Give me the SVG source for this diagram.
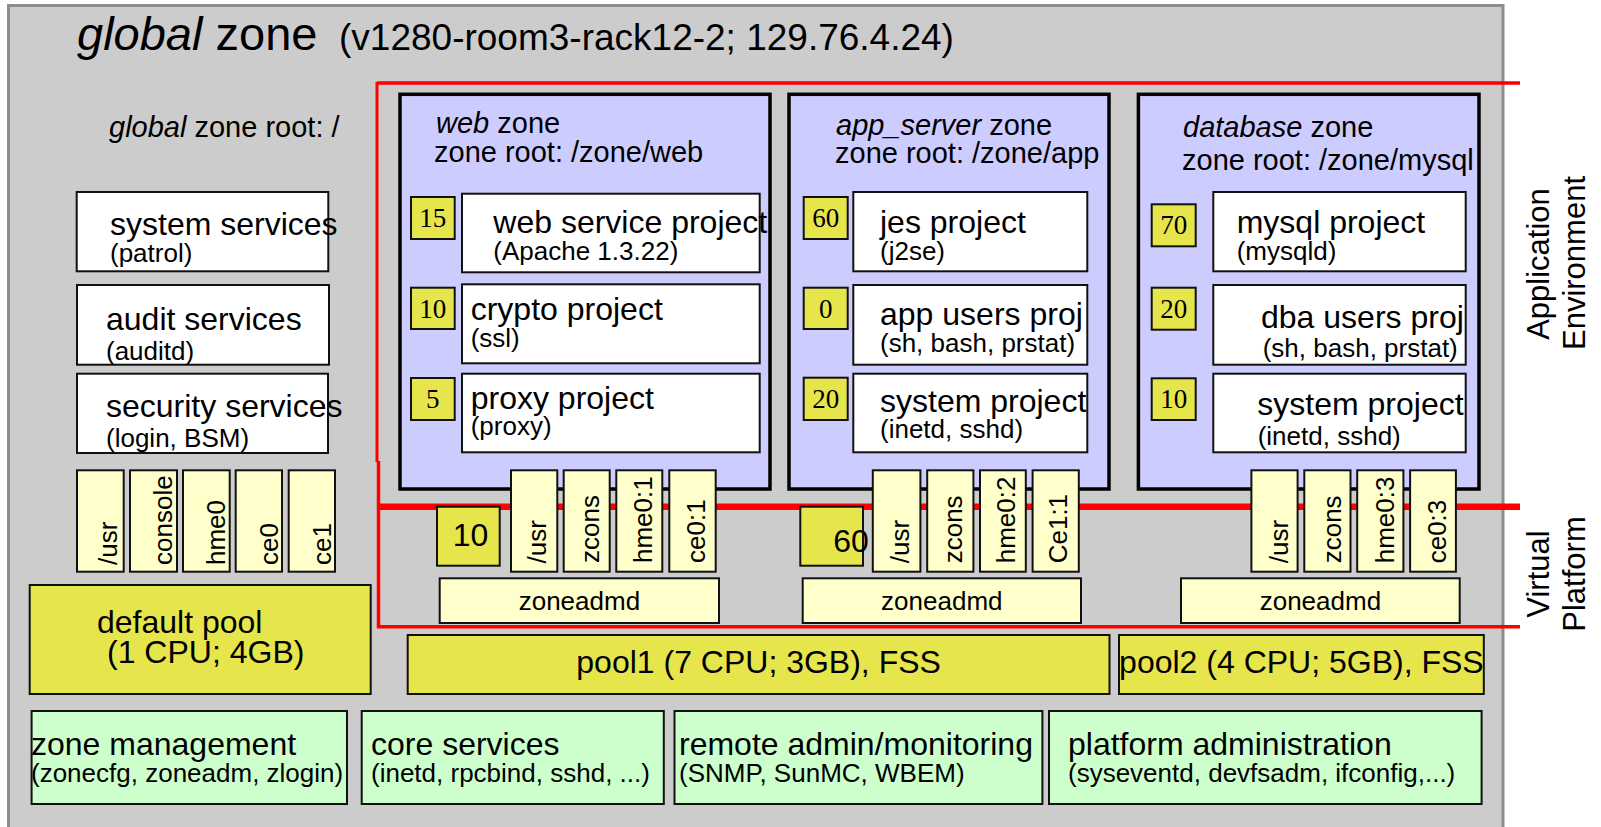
<svg xmlns="http://www.w3.org/2000/svg" width="1601" height="827" viewBox="0 0 1601 827">
<style>
text{font-family:"Liberation Sans",Arial,Helvetica,sans-serif;fill:#000}
.it{font-style:italic}
.m{font-size:32px}
.s{font-size:26px}
.zl{font-size:29px}
.num{font-family:"Liberation Serif","Times New Roman",serif;font-size:27px;text-anchor:middle}
.v{font-size:26px}
.mid{text-anchor:middle}
.wb{fill:#ffffff;stroke:#111;stroke-width:2}
.zone{fill:#ccccff;stroke:#000;stroke-width:3.5}
.yb{fill:#e6e64c;stroke:#111;stroke-width:2}
.lb{fill:#ffffcc;stroke:#111;stroke-width:2}
.gb{fill:#ccffcc;stroke:#111;stroke-width:2}
.red{stroke:#ff0000;fill:none}
</style>
<rect x="0" y="0" width="1601" height="827" fill="#ffffff"/>
<g id="global-zone">
<rect x="8.5" y="5.5" width="1494.5" height="830" fill="#cccccc" stroke="#8c8c8c" stroke-width="3"/>
<text x="77" y="50" font-size="47"><tspan class="it">global</tspan> zone</text>
<text x="339" y="50" font-size="37">(v1280-room3-rack12-2; 129.76.4.24)</text>
<text x="109" y="137" class="zl"><tspan class="it">global</tspan> zone root: /</text>
</g>
<g id="boundaries">
<path class="red" d="M377 83H1520" stroke-width="3.5"/>
<path class="red" d="M377 82V462" stroke-width="3"/>
<path class="red" d="M378.5 461V628" stroke-width="3.5"/>
<path class="red" d="M377 506.7H1520" stroke-width="6.5"/>
<path class="red" d="M377 626.7H1520" stroke-width="3.5"/>
</g>
<g id="label-application-environment">
<text class="mid" font-size="31" transform="translate(1549,264) rotate(-90)">Application</text>
<text class="mid" font-size="31" transform="translate(1585,263) rotate(-90)">Environment</text>
</g>
<g id="label-virtual-platform">
<text class="mid" font-size="31" transform="translate(1549,574) rotate(-90)">Virtual</text>
<text class="mid" font-size="31" transform="translate(1585,574) rotate(-90)">Platform</text>
</g>
<g id="system-services">
<rect class="wb" x="76.7" y="192" width="251.6" height="79.3"/>
<text class="m" x="110" y="235">system services</text>
<text class="s" x="110" y="262">(patrol)</text>
</g>
<g id="audit-services">
<rect class="wb" x="77" y="285" width="252" height="79.7"/>
<text class="m" x="106" y="330">audit services</text>
<text class="s" x="106" y="360">(auditd)</text>
</g>
<g id="security-services">
<rect class="wb" x="77" y="373.7" width="251" height="79.3"/>
<text class="m" x="106" y="416.7">security services</text>
<text class="s" x="106" y="446.7">(login, BSM)</text>
</g>
<g id="global-devices">
<rect class="lb" x="77" y="470.3" width="46.7" height="101.4"/>
<rect class="lb" x="130" y="470.3" width="47" height="101.4"/>
<rect class="lb" x="183" y="470.3" width="46.7" height="101.4"/>
<rect class="lb" x="235.7" y="470.3" width="46.3" height="101.4"/>
<rect class="lb" x="288.7" y="470.3" width="46.3" height="101.4"/>
<text class="v" transform="translate(117,565) rotate(-90)">/usr</text>
<text class="v" transform="translate(172,565) rotate(-90)">console</text>
<text class="v" transform="translate(225,565) rotate(-90)">hme0</text>
<text class="v" transform="translate(278,565) rotate(-90)">ce0</text>
<text class="v" transform="translate(331,565) rotate(-90)">ce1</text>
</g>
<g id="default-pool">
<rect class="yb" x="29.7" y="585" width="341" height="109"/>
<text class="m" x="97" y="633">default pool</text>
<text class="m" x="107" y="663">(1 CPU; 4GB)</text>
</g>
<g id="web-zone">
<rect class="zone" x="400" y="94.3" width="370" height="394.7"/>
<text class="zl" x="436" y="133"><tspan class="it">web</tspan> zone</text>
<text class="zl" x="434" y="162">zone root: /zone/web</text>
<rect class="yb" x="411" y="197" width="43.7" height="42"/>
<text class="num" x="432.8" y="227">15</text>
<rect class="wb" x="462" y="193.7" width="297.7" height="78.6"/>
<text class="m" x="493.3" y="233.3">web service project</text>
<text class="s" x="493.3" y="260">(Apache 1.3.22)</text>
<rect class="yb" x="411" y="287.7" width="43.7" height="41.3"/>
<text class="num" x="432.8" y="317.5">10</text>
<rect class="wb" x="462" y="284.3" width="297.7" height="79"/>
<text class="m" x="470.7" y="320">crypto project</text>
<text class="s" x="470.7" y="347">(ssl)</text>
<rect class="yb" x="411" y="378" width="43.7" height="42"/>
<text class="num" x="432.8" y="408">5</text>
<rect class="wb" x="462" y="373.7" width="297.7" height="78.6"/>
<text class="m" x="470.7" y="409">proxy project</text>
<text class="s" x="470.7" y="435">(proxy)</text>
</g>
<g id="app-server-zone">
<rect class="zone" x="789" y="94.3" width="320" height="394.7"/>
<text class="zl" x="836" y="134.5"><tspan class="it">app_server</tspan> zone</text>
<text class="zl" x="835" y="163">zone root: /zone/app</text>
<rect class="yb" x="803.7" y="197" width="44" height="42"/>
<text class="num" x="825.7" y="227">60</text>
<rect class="wb" x="853.3" y="192" width="234" height="79.3"/>
<text class="m" x="880" y="233.3">jes project</text>
<text class="s" x="880" y="260">(j2se)</text>
<rect class="yb" x="803.7" y="287.7" width="44" height="41.3"/>
<text class="num" x="825.7" y="317.5">0</text>
<rect class="wb" x="853.3" y="285" width="234" height="79.7"/>
<text class="m" x="880" y="325">app users proj</text>
<text class="s" x="880" y="351.7">(sh, bash, prstat)</text>
<rect class="yb" x="803.7" y="377.7" width="44" height="42.3"/>
<text class="num" x="825.7" y="408">20</text>
<rect class="wb" x="853.3" y="373.7" width="234" height="78.6"/>
<text class="m" x="880" y="411.7">system project</text>
<text class="s" x="880" y="438.3">(inetd, sshd)</text>
</g>
<g id="database-zone">
<rect class="zone" x="1138.4" y="94.3" width="340.6" height="394.7"/>
<text class="zl" x="1183" y="136.5"><tspan class="it">database</tspan> zone</text>
<text class="zl" x="1182" y="169.5">zone root: /zone/mysql</text>
<rect class="yb" x="1151.7" y="204.3" width="44" height="42"/>
<text class="num" x="1173.7" y="234.3">70</text>
<rect class="wb" x="1213.3" y="192" width="252.4" height="79.3"/>
<text class="m" x="1236.7" y="233.3">mysql project</text>
<text class="s" x="1236.7" y="260">(mysqld)</text>
<rect class="yb" x="1151.7" y="287.7" width="44" height="42"/>
<text class="num" x="1173.7" y="317.7">20</text>
<rect class="wb" x="1213.3" y="285" width="252.4" height="79.7"/>
<text class="m" x="1261" y="328.3">dba users proj</text>
<text class="s" x="1262.7" y="356.7">(sh, bash, prstat)</text>
<rect class="yb" x="1151.7" y="378.3" width="44" height="41.7"/>
<text class="num" x="1173.7" y="408">10</text>
<rect class="wb" x="1213.3" y="373.7" width="252.4" height="78.6"/>
<text class="m" x="1257.3" y="415">system project</text>
<text class="s" x="1257.7" y="445">(inetd, sshd)</text>
</g>
<g id="web-platform">
<rect class="yb" x="437" y="506.7" width="62.7" height="59"/>
<text class="m" x="452.7" y="546">10</text>
<rect class="lb" x="511" y="470.3" width="46.3" height="101.4"/>
<rect class="lb" x="563.7" y="470.3" width="46" height="101.4"/>
<rect class="lb" x="616.3" y="470.3" width="46" height="101.4"/>
<rect class="lb" x="669.3" y="470.3" width="46.4" height="101.4"/>
<text class="v" transform="translate(546.3,563.5) rotate(-90)">/usr</text>
<text class="v" transform="translate(599,563) rotate(-90)">zcons</text>
<text class="v" transform="translate(651.5,563) rotate(-90)">hme0:1</text>
<text class="v" transform="translate(704.7,563) rotate(-90)">ce0:1</text>
<rect class="lb" x="439.7" y="578.3" width="279.3" height="44.7"/>
<text class="v mid" x="579.4" y="610">zoneadmd</text>
</g>
<g id="app-platform">
<rect class="yb" x="800.3" y="506.7" width="62.7" height="59"/>
<text class="m" x="833.3" y="551.7">60</text>
<rect class="lb" x="872.8" y="470.3" width="47.6" height="101.4"/>
<rect class="lb" x="927.2" y="470.3" width="46.2" height="101.4"/>
<rect class="lb" x="980" y="470.3" width="45.8" height="101.4"/>
<rect class="lb" x="1032.6" y="470.3" width="46.2" height="101.4"/>
<text class="v" transform="translate(909.4,563.3) rotate(-90)">/usr</text>
<text class="v" transform="translate(962,563.3) rotate(-90)">zcons</text>
<text class="v" transform="translate(1014.5,563.3) rotate(-90)">hme0:2</text>
<text class="v" transform="translate(1066.5,563.3) rotate(-90)">Ce1:1</text>
<rect class="lb" x="802.7" y="578.3" width="278.3" height="44.7"/>
<text class="v mid" x="941.8" y="610">zoneadmd</text>
</g>
<g id="database-platform">
<rect class="lb" x="1251.4" y="470.3" width="46.2" height="101.4"/>
<rect class="lb" x="1304.3" y="470.3" width="46.2" height="101.4"/>
<rect class="lb" x="1357.2" y="470.3" width="46.2" height="101.4"/>
<rect class="lb" x="1410.1" y="470.3" width="45.8" height="101.4"/>
<text class="v" transform="translate(1287.7,563.3) rotate(-90)">/usr</text>
<text class="v" transform="translate(1341,563.3) rotate(-90)">zcons</text>
<text class="v" transform="translate(1394,563.3) rotate(-90)">hme0:3</text>
<text class="v" transform="translate(1446,563.3) rotate(-90)">ce0:3</text>
<rect class="lb" x="1181" y="578.3" width="278.7" height="44.7"/>
<text class="v mid" x="1320.4" y="610">zoneadmd</text>
</g>
<g id="pool1">
<rect class="yb" x="407.7" y="635" width="701.8" height="59"/>
<text class="m mid" x="758.6" y="673.3">pool1 (7 CPU; 3GB), FSS</text>
</g>
<g id="pool2">
<rect class="yb" x="1119" y="635" width="364.8" height="59"/>
<text class="m mid" x="1301.4" y="673.3">pool2 (4 CPU; 5GB), FSS</text>
</g>
<g id="zone-management">
<rect class="gb" x="31.6" y="711" width="315.4" height="93"/>
<text class="m" x="31" y="755">zone management</text>
<text class="s" x="31" y="782">(zonecfg, zoneadm, zlogin)</text>
</g>
<g id="core-services">
<rect class="gb" x="361.7" y="711" width="302.1" height="93"/>
<text class="m" x="371" y="755">core services</text>
<text class="s" x="371" y="782">(inetd, rpcbind, sshd, ...)</text>
</g>
<g id="remote-admin">
<rect class="gb" x="674.5" y="711" width="367.9" height="93"/>
<text class="m" x="679" y="755">remote admin/monitoring</text>
<text class="s" x="679" y="782">(SNMP, SunMC, WBEM)</text>
</g>
<g id="platform-administration">
<rect class="gb" x="1049" y="711" width="432.6" height="93"/>
<text class="m" x="1068" y="755">platform administration</text>
<text class="s" x="1068" y="782">(syseventd, devfsadm, ifconfig,...)</text>
</g>
</svg>
